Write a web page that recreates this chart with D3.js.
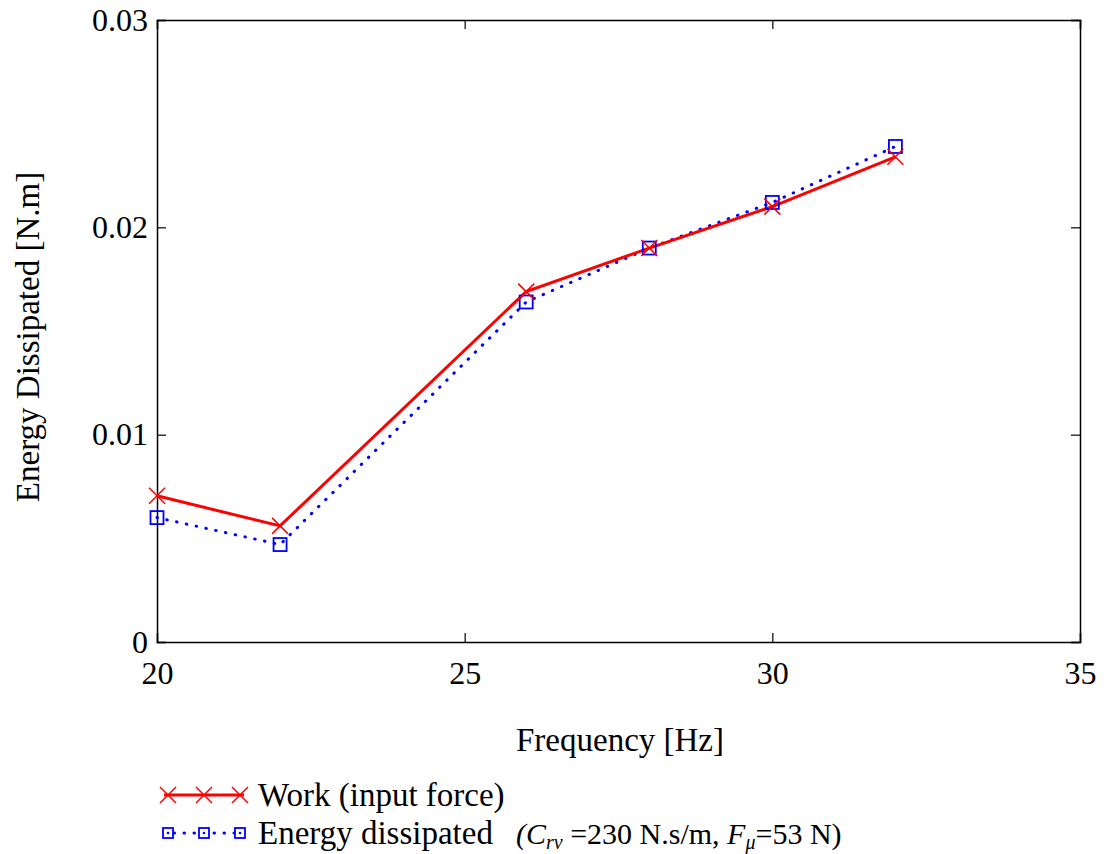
<!DOCTYPE html>
<html lang="en">
<head>
  <meta charset="UTF-8">
  <title>Energy Dissipated vs Frequency</title>
  <script src="https://d3js.org/d3.v7.min.js"></script>
  <style>
    body { margin: 0; background: #fff; }
    text { font-family: "Liberation Serif", "Times New Roman", serif; fill: #000; }
  </style>
</head>
<body>
  <script>
    // data
    const freq = [20, 22, 26, 28, 30, 32];
    const work = [0.00705, 0.0056, 0.0169, 0.0190, 0.0210, 0.0234];
    const dissipated = [0.0060, 0.0047, 0.0164, 0.0190, 0.0212, 0.0239];
    const xTicks = [20, 25, 30, 35];
    const yTicks = [0, 0.01, 0.02, 0.03];

    const serif = "'Liberation Serif', 'Times New Roman', serif";
    const width = 1110, height = 854;
    const margin = { top: 20, right: 30, bottom: 212, left: 157 };
    const w = width - margin.left - margin.right;   // 923
    const h = height - margin.top - margin.bottom;  // 622

    const svg = d3.select("body").append("svg")
      .attr("width", width).attr("height", height);
    const g = svg.append("g").attr("transform", `translate(${margin.left},${margin.top})`);

    const x = d3.scaleLinear().domain([20, 35]).range([0, w]);
    const y = d3.scaleLinear().domain([0, 0.03]).range([h, 0]);

    const fmtY = d => d === 0 ? "0" : d3.format(".2f")(d);

    // axes with inward ticks, mirrored on top and right
    const tickLen = 9;
    g.append("g").attr("transform", `translate(0,${h})`)
      .call(d3.axisBottom(x).tickValues(xTicks).tickSize(-tickLen).tickPadding(19));
    g.append("g")
      .call(d3.axisTop(x).tickValues(xTicks).tickSize(-tickLen).tickFormat(""));
    g.append("g")
      .call(d3.axisLeft(y).tickValues(yTicks).tickSize(-tickLen).tickPadding(9).tickFormat(fmtY));
    g.append("g").attr("transform", `translate(${w},0)`)
      .call(d3.axisRight(y).tickValues(yTicks).tickSize(-tickLen).tickFormat(""));

    g.selectAll(".domain").attr("stroke", "#000").attr("stroke-width", 1.5);
    g.selectAll(".tick line").attr("stroke", "#000").attr("stroke-width", 1.2);
    g.selectAll(".tick text")
      .attr("font-family", serif).attr("font-size", 32)
      .style("font-family", serif).style("font-size", "32px");

    // lines
    const lineGen = vals => d3.line().x((d, i) => x(freq[i])).y(d => y(d))(vals);

    g.append("path")
      .attr("d", lineGen(dissipated))
      .attr("fill", "none").attr("stroke", "#0000ff").attr("stroke-width", 3)
      .attr("stroke-linecap", "round").attr("stroke-dasharray", "0.5 9.5");

    g.append("path")
      .attr("d", lineGen(work))
      .attr("fill", "none").attr("stroke", "#ff0000").attr("stroke-width", 3);

    const sq = 13, xs = 8;
    g.selectAll(".sq").data(dissipated).enter().append("rect")
      .attr("x", (d, i) => x(freq[i]) - sq / 2)
      .attr("y", d => y(d) - sq / 2)
      .attr("width", sq).attr("height", sq)
      .attr("fill", "none").attr("stroke", "#0000ff").attr("stroke-width", 1.8);

    g.selectAll(".xm").data(work).enter().append("path")
      .attr("d", (d, i) => {
        const cx = x(freq[i]), cy = y(d);
        return `M${cx - xs},${cy - xs}L${cx + xs},${cy + xs}M${cx - xs},${cy + xs}L${cx + xs},${cy - xs}`;
      })
      .attr("stroke", "#ff0000").attr("stroke-width", 1.5);

    // axis titles
    svg.append("text")
      .attr("x", 620).attr("y", 751)
      .attr("text-anchor", "middle").style("font-size", "33px")
      .text("Frequency [Hz]");

    svg.append("text")
      .attr("transform", "translate(39,337) rotate(-90)")
      .attr("text-anchor", "middle").style("font-size", "33px")
      .text("Energy Dissipated [N.m]");

    // legend
    const leg = svg.append("g");
    const lx0 = 164, lx1 = 244, mk = [168, 204, 240];
    const r1 = 795, r2 = 833;

    leg.append("line").attr("x1", lx0).attr("x2", lx1).attr("y1", r1).attr("y2", r1)
      .attr("stroke", "#ff0000").attr("stroke-width", 3);
    mk.forEach(cx => {
      leg.append("path")
        .attr("d", `M${cx - xs},${r1 - xs}L${cx + xs},${r1 + xs}M${cx - xs},${r1 + xs}L${cx + xs},${r1 - xs}`)
        .attr("stroke", "#ff0000").attr("stroke-width", 1.5);
    });
    leg.append("text").attr("x", 258).attr("y", r1 + 11).style("font-size", "33px")
      .text("Work (input force)");

    leg.append("line").attr("x1", lx0).attr("x2", lx1).attr("y1", r2).attr("y2", r2)
      .attr("stroke", "#0000ff").attr("stroke-width", 3)
      .attr("stroke-linecap", "round").attr("stroke-dasharray", "0.5 9.5");
    mk.forEach(cx => {
      leg.append("rect").attr("x", cx - 5).attr("y", r2 - 5).attr("width", 10).attr("height", 10)
        .attr("fill", "#fff").attr("stroke", "#0000ff").attr("stroke-width", 1.8);
      leg.append("circle").attr("cx", cx).attr("cy", r2).attr("r", 1.3).attr("fill", "#0000ff");
    });
    leg.append("text").attr("x", 258).attr("y", r2 + 11).style("font-size", "33px")
      .text("Energy dissipated");

    const note = leg.append("text").attr("x", 516).attr("y", r2 + 11).style("font-size", "30px");
    note.append("tspan").style("font-style", "italic").text("(C");
    note.append("tspan").style("font-style", "italic").style("font-size", "20px").attr("dy", 5).text("rv");
    note.append("tspan").attr("dy", -5).text(" =230 N.s/m, ");
    note.append("tspan").style("font-style", "italic").text("F");
    note.append("tspan").style("font-style", "italic").style("font-size", "20px").attr("dy", 5).text("\u03bc");
    note.append("tspan").attr("dy", -5).text("=53 N)");
  </script>
</body>
</html>
